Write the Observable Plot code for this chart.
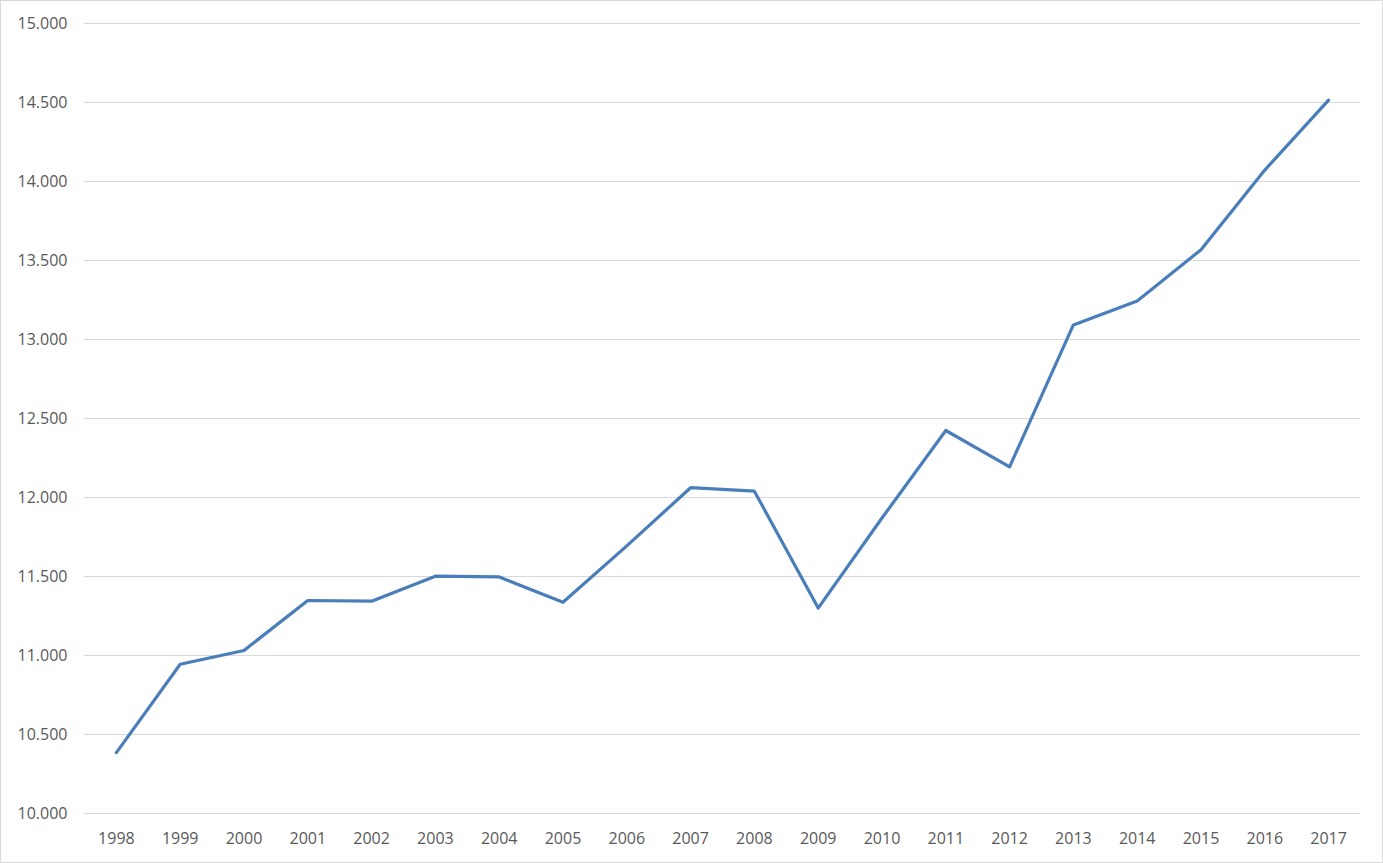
<!DOCTYPE html>
<html>
<head>
<meta charset="utf-8">
<script src="https://cdn.jsdelivr.net/npm/d3@7"></script>
<script src="https://cdn.jsdelivr.net/npm/@observablehq/plot@0.6"></script>
<style>
  html, body { margin: 0; padding: 0; background: #fff; }
  #chart svg { display: block; outline: 1px solid #d9d9d9; outline-offset: -1px; }
</style>
</head>
<body>
<div id="chart"></div>
<script>
const years = ["1998","1999","2000","2001","2002","2003","2004","2005","2006","2007","2008","2009","2010","2011","2012","2013","2014","2015","2016","2017"];
const values = [10385, 10945, 11032, 11348, 11344, 11502, 11497, 11337, 11694, 12062, 12040, 11300, 11870, 12424, 12194, 13092, 13244, 13568, 14072, 14515];
const yTicks = [10000, 10500, 11000, 11500, 12000, 12500, 13000, 13500, 14000, 14500, 15000];

const data = years.map((y, i) => ({year: y, value: values[i]}));
const tickFmt = d => { const t = Math.floor(d / 1000); const r = String(d % 1000).padStart(3, "0"); return t + "." + r; };

const chart = Plot.plot({
  width: 1383,
  height: 863,
  marginLeft: 84,
  marginRight: 23,
  marginTop: 23,
  marginBottom: 50,
  style: {fontFamily: "'Open Sans', sans-serif", fontSize: "16px", color: "#595959", background: "#fff"},
  x: {type: "point", domain: years, padding: 0.5, round: false, label: null},
  y: {domain: [10000, 15000], label: null},
  marks: [
    Plot.ruleY(yTicks, {stroke: "#d9d9d9", strokeWidth: 1}),
    Plot.axisY(yTicks, {tickSize: 0, tickPadding: 17, tickFormat: tickFmt, fill: "#595959", fontSize: 16, label: null}),
    Plot.axisX({tickSize: 0, tickPadding: 19, fill: "#595959", fontSize: 16, label: null}),
    Plot.line(data, {x: "year", y: "value", stroke: "#4a7ebb", strokeWidth: 3.2, strokeLinejoin: "round", strokeLinecap: "round"})
  ]
});
document.getElementById("chart").appendChild(chart);
</script>
</body>
</html>
